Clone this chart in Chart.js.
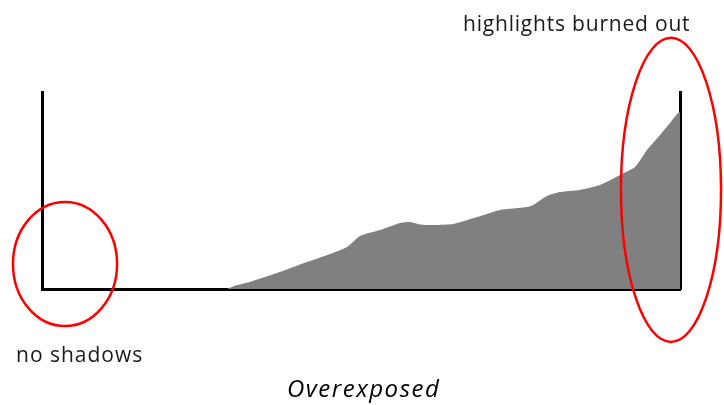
<!DOCTYPE html>
<html lang="en">
<head>
<meta charset="UTF-8">
<script src="https://cdn.jsdelivr.net/npm/chart.js"></script>
<title>Overexposed</title>
<style>
  html, body { margin: 0; padding: 0; background: #fff; }
  #wrap { width: 724px; height: 405px; }
</style>
</head>
<body>
<div id="wrap"><canvas id="histo"></canvas></div>
<script>
  // brightness levels (0-255) and histogram height (0-100)
  const niveis = [74, 78, 83.1, 93.9, 105.9, 116.3, 121.9, 127.1, 135.1, 143.1, 147.1, 151, 156.3, 164.3, 173.9, 183.1, 193.9, 196.3, 201.8, 207, 215, 223, 231, 237, 241.8, 247, 251, 254.2, 255];
  const contagem = [0, 2.0, 3.6, 8.1, 13.7, 18.3, 21.3, 26.9, 29.9, 33.5, 34.0, 32.8, 32.5, 33.0, 36.5, 40.1, 41.6, 42.6, 47.2, 49.2, 50.3, 52.8, 57.9, 61.9, 70.6, 78.2, 84.3, 89.3, 89.8];

  // red circles marking the ends (center x, center y, radius x, radius y) in data units
  const marcas = [
    { cx: 9.2, cy: 12.7, rx: 20.8, ry: 31.5 },
    { cx: 251.4, cy: 50.3, rx: 20.0, ry: 77.2 }
  ];

  const textos = {
    direita: "highlights burned out",
    esquerda: "no shadows",
    titulo: "Overexposed"
  };

  let pontos = [];
  for (let i = 0; i < niveis.length; i++) {
    pontos.push({ x: niveis[i], y: contagem[i] });
  }

  const anotacoes = {
    id: "anotacoes",
    afterDraw(chart) {
      const ctx = chart.ctx;
      const sx = chart.scales.x, sy = chart.scales.y;
      ctx.save();
      ctx.strokeStyle = "#ff0000";
      ctx.lineWidth = 2.5;
      marcas.forEach(m => {
        const cx = sx.getPixelForValue(m.cx);
        const cy = sy.getPixelForValue(m.cy);
        const rx = Math.abs(sx.getPixelForValue(m.cx + m.rx) - cx);
        const ry = Math.abs(sy.getPixelForValue(m.cy + m.ry) - cy);
        ctx.beginPath();
        ctx.ellipse(cx, cy, rx, ry, 0, 0, Math.PI * 2);
        ctx.stroke();
      });

      ctx.fillStyle = "#1a1a1a";
      ctx.textAlign = "left";
      ctx.textBaseline = "alphabetic";
      ctx.font = "21px 'Open Sans'";
      ctx.letterSpacing = "0.8px";
      ctx.fillText(textos.direita, 463, 31);
      ctx.letterSpacing = "1px";
      ctx.fillText(textos.esquerda, 16, 362);
      ctx.fillStyle = "#000";
      ctx.font = "italic 24px 'Open Sans'";
      ctx.letterSpacing = "1.5px";
      ctx.fillText(textos.titulo, 287, 397);
      ctx.restore();
    }
  };

  new Chart(document.getElementById("histo"), {
    type: "line",
    data: {
      datasets: [{
        data: pontos,
        fill: "origin",
        backgroundColor: "#808080",
        borderWidth: 0,
        pointRadius: 0,
        tension: 0.2
      }]
    },
    options: {
      responsive: true,
      maintainAspectRatio: false,
      animation: false,
      events: [],
      layout: { padding: { left: 42, right: 44, top: 92, bottom: 116 } },
      plugins: { legend: { display: false }, tooltip: { enabled: false } },
      scales: {
        x: {
          type: "linear", min: 0, max: 255,
          grid: { display: false, drawTicks: false },
          ticks: { display: false },
          border: { display: true, color: "#000", width: 3 }
        },
        y: {
          min: 0, max: 100,
          grid: { display: false, drawTicks: false },
          ticks: { display: false },
          border: { display: true, color: "#000", width: 3 }
        },
        y2: {
          position: "right", min: 0, max: 100,
          grid: { display: false, drawTicks: false },
          ticks: { display: false },
          border: { display: true, color: "#000", width: 3 }
        }
      }
    },
    plugins: [anotacoes]
  });
</script>
</body>
</html>
